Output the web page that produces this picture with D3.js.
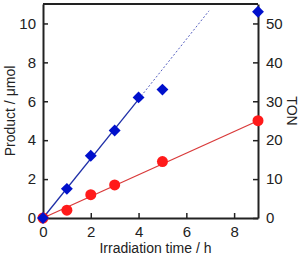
<!DOCTYPE html>
<html>
<head>
<meta charset="utf-8">
<script src="https://cdn.jsdelivr.net/npm/d3@7"></script>
<style>
  body { margin: 0; background: #fff; }
  text { font-family: "Liberation Sans", Arial, sans-serif; fill: #222; }
</style>
</head>
<body>
<script>
// data
var timeBlue = [0, 1, 2, 3, 4, 5, 9];
var productBlue = [0, 1.5, 3.2, 4.5, 6.2, 6.6, 10.6];
var timeRed = [0, 1, 2, 3, 5, 9];
var productRed = [0, 0.4, 1.2, 1.7, 2.9, 5.0];
var blueFitSolid = [[0, 0], [4, 6.1]];
var blueFitDashed = [[4, 6.1], [6.95, 10.65]];
var redFit = [[0, 0], [9, 5.0]];
var xTicks = [0, 2, 4, 6, 8];
var yTicks = [0, 2, 4, 6, 8, 10];
var tonTicks = [0, 10, 20, 30, 40, 50];

var W = 302, H = 260;
var m = {left: 43, right: 44, top: 4, bottom: 42};

var svg = d3.select("body").append("svg")
    .attr("width", W)
    .attr("height", H);

var x = d3.scaleLinear().domain([0, 9]).range([m.left, W - m.right]);
var y = d3.scaleLinear().domain([0, 11]).range([H - m.bottom, m.top]);
var yTon = d3.scaleLinear().domain([0, 55]).range([H - m.bottom, m.top]);

var line = d3.line().x(function(d){ return x(d[0]); }).y(function(d){ return y(d[1]); });

// fit lines
svg.append("path").attr("d", line(redFit))
   .attr("stroke", "#d93a3a").attr("stroke-width", 1.3).attr("fill", "none");
svg.append("path").attr("d", line(blueFitSolid))
   .attr("stroke", "#1f2fa8").attr("stroke-width", 1.3).attr("fill", "none");
svg.append("path").attr("d", line(blueFitDashed))
   .attr("stroke", "#5560c0").attr("stroke-width", 1).attr("stroke-dasharray", "2,2").attr("fill", "none");

// axes (ticks point inward)
var fs = "15px";
svg.append("g").attr("transform", "translate(0," + (H - m.bottom) + ")")
   .call(d3.axisBottom(x).tickValues(xTicks).tickSizeInner(-5).tickSizeOuter(0).tickPadding(8))
   .call(function(g){ g.selectAll("text").style("font-size", fs); });
svg.append("g").attr("transform", "translate(" + m.left + ",0)")
   .call(d3.axisLeft(y).tickValues(yTicks).tickSizeInner(-5).tickSizeOuter(0).tickPadding(7))
   .call(function(g){ g.selectAll("text").style("font-size", fs); });
svg.append("g").attr("transform", "translate(" + (W - m.right) + ",0)")
   .call(d3.axisRight(yTon).tickValues(tonTicks).tickSizeInner(-5).tickSizeOuter(0).tickPadding(8))
   .call(function(g){ g.selectAll("text").style("font-size", fs); });

svg.selectAll(".domain").attr("stroke", "#222").attr("stroke-width", 2);
svg.selectAll(".tick line").attr("stroke", "#222").attr("stroke-width", 1.5);

// top frame line
svg.append("line")
   .attr("x1", m.left).attr("x2", W - m.right)
   .attr("y1", m.top).attr("y2", m.top)
   .attr("stroke", "#222").attr("stroke-width", 2);

// markers
svg.selectAll("circle.red").data(timeRed).enter().append("circle")
   .attr("class", "red")
   .attr("cx", function(d){ return x(d); })
   .attr("cy", function(d, i){ return y(productRed[i]); })
   .attr("r", 5.5)
   .attr("fill", "#ff1a1a");

var diamond = d3.symbol().type(d3.symbolDiamond2).size(90);
svg.selectAll("path.blue").data(timeBlue).enter().append("path")
   .attr("class", "blue")
   .attr("d", diamond)
   .attr("transform", function(d, i){ return "translate(" + x(d) + "," + y(productBlue[i]) + ")"; })
   .attr("fill", "#0010cc");

// axis titles
svg.append("text")
   .attr("x", (m.left + W - m.right) / 2 + 5).attr("y", 253)
   .attr("text-anchor", "middle").style("font-size", "14px")
   .text("Irradiation time / h");
svg.append("text")
   .attr("transform", "translate(15," + ((m.top + H - m.bottom) / 2) + ") rotate(-90)")
   .attr("text-anchor", "middle").style("font-size", "14px")
   .text("Product / μmol");
svg.append("text")
   .attr("transform", "translate(287," + ((m.top + H - m.bottom) / 2) + ") rotate(90)")
   .attr("text-anchor", "middle").style("font-size", "14px")
   .text("TON");
</script>
</body>
</html>
